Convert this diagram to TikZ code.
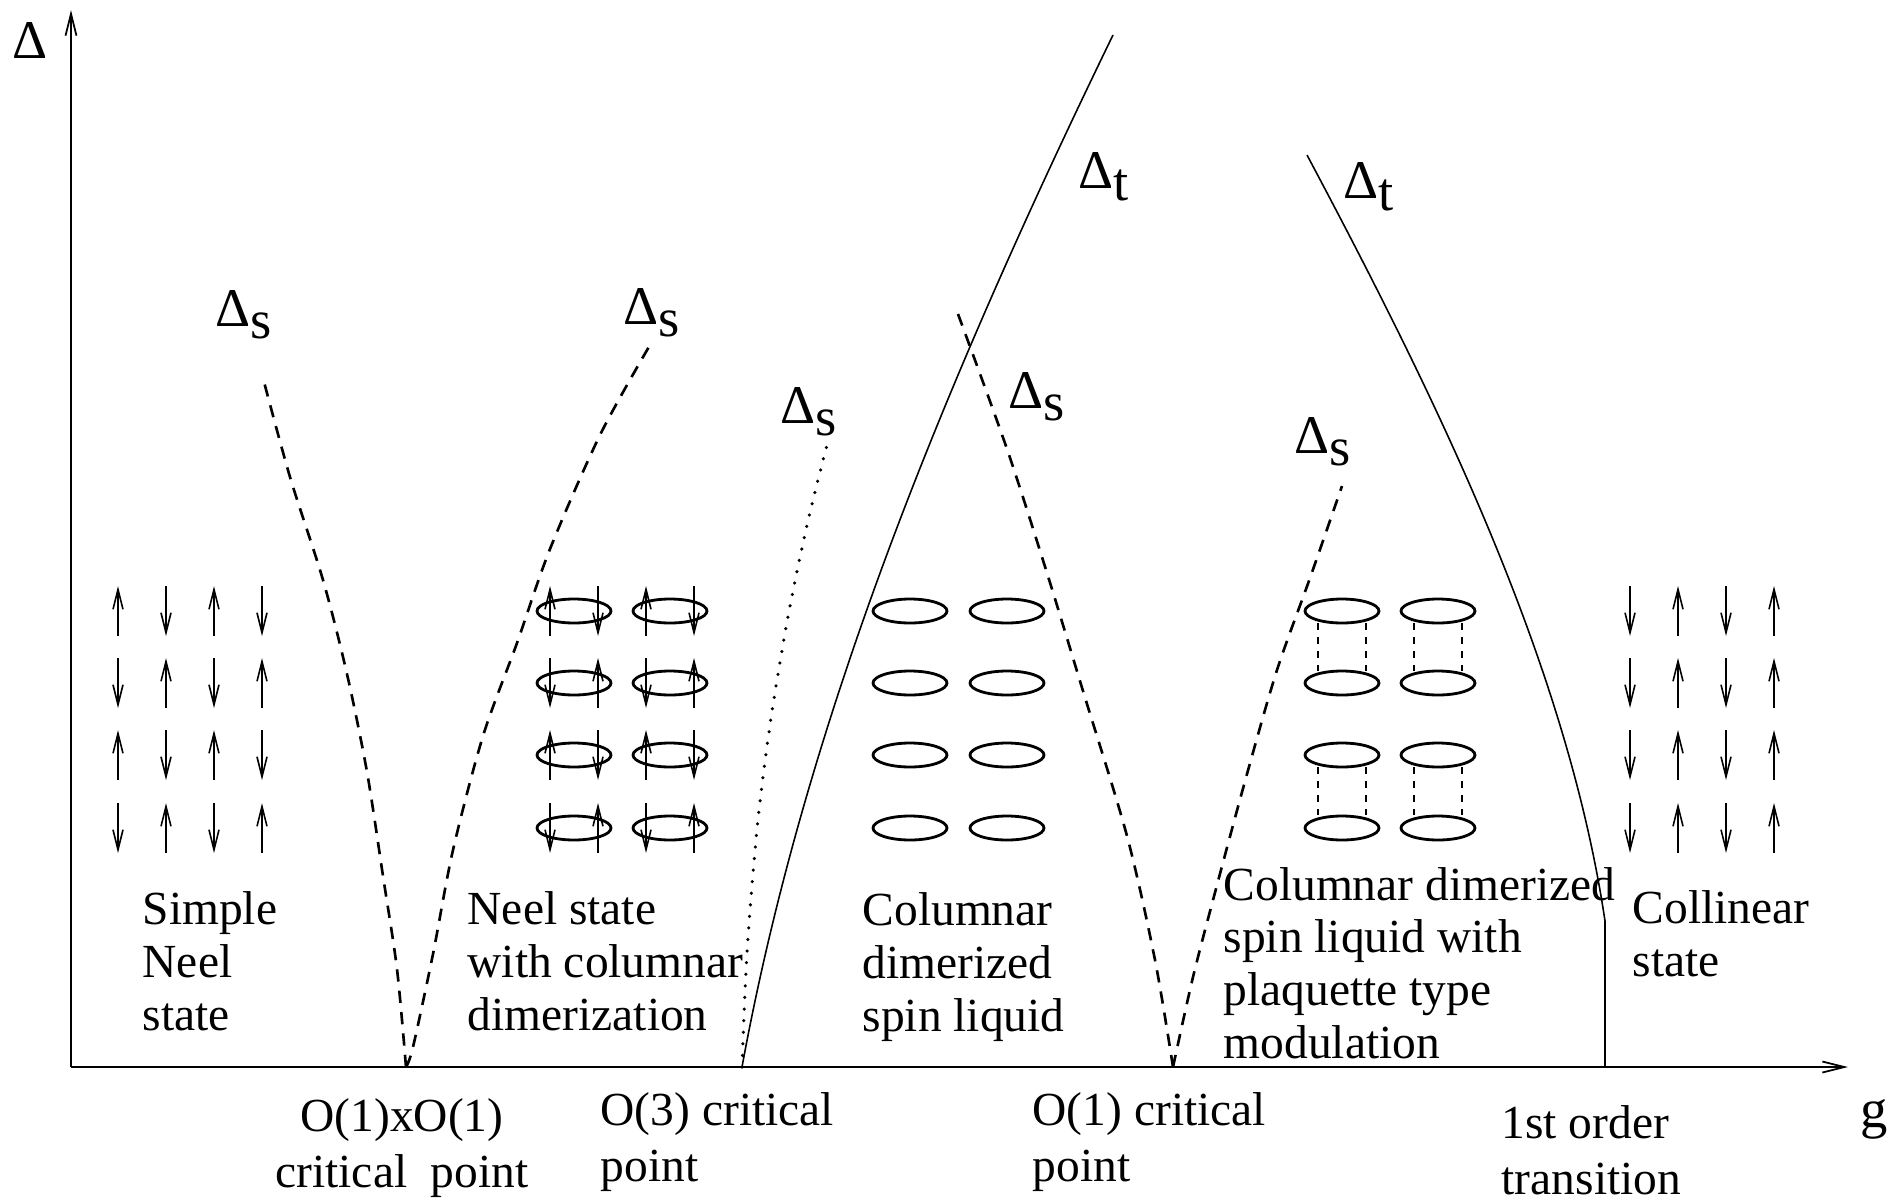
\documentclass[tikz,border=0pt]{standalone}
\usepackage{fontspec}
\setmainfont{Liberation Serif}
\usetikzlibrary{arrows.meta}
\usetikzlibrary{positioning}
\tikzstyle{axis} = [line width=.5pt, -{Straight Barb[length=2.2mm,width=1.1mm]}]
\tikzstyle{spinup} = [line width=.45pt, {Straight Barb[length=2mm,width=1mm]}-]
\tikzstyle{spindown} = [line width=.45pt, -{Straight Barb[length=2mm,width=1mm]}]
\tikzstyle{dimer} = [line width=.8pt]
\tikzstyle{bond} = [line width=.35pt, dash pattern=on 2pt off 2pt]
\tikzstyle{gapline} = [line width=.45pt]
\tikzstyle{gapdash} = [line width=.75pt, dash pattern=on 3.5pt off 2.6pt]
\tikzstyle{gapdot} = [line width=1pt, line cap=round, dash pattern=on 0pt off 3.3pt]
\tikzstyle{phase} = [align=left, anchor=west, inner sep=0pt, font=\fontsize{13.5}{15}\selectfont]
\tikzstyle{point} = [align=left, anchor=west, inner sep=0pt, font=\fontsize{13.5}{16}\selectfont]
\tikzstyle{gaplabel} = [anchor=base west, inner sep=0pt, font=\fontsize{15.5}{18}\selectfont]
\newcommand{\gp}[1]{Δ\raisebox{-3.5pt}{#1}}

\begin{document}
\begin{tikzpicture}[x=0.01cm, y=-0.01cm]
\useasboundingbox (0,0) rectangle (1893,1199);

% axes
\coordinate (origin) at (71,1067);
\coordinate (ytop) at (71,10);
\coordinate (xend) at (1848,1067);
\draw[axis] (origin) -- (ytop);
\draw[axis] (origin) -- (xend);
\node[gaplabel] (ylab) at (12,58) {Δ};
\node[gaplabel] (xlab) at (1860,1127) {g};

% critical points on the g axis
\coordinate (o11) at (406,1067);
\coordinate (o3) at (742,1067);
\coordinate (o1) at (1173,1067);
\coordinate (first) at (1605,1067);
\coordinate (kink) at (1605,921);
\coordinate (ttop1) at (1113,35);
\coordinate (ttop2) at (1307,155);

% gap lines
\draw[gapdash] plot[smooth] coordinates {(o11) (397,969) (383,876) (367,772) (347,674) (323,580) (290,477) (263,378)};
\draw[gapdash] plot[smooth] coordinates {(o11) (413,1047) (433,954) (453,850) (483,736) (517,643) (550,549) (600,435) (650,345)};
\draw[gapdot] plot[smooth] coordinates {(o3) (747,953) (757,829) (770,725) (787,622) (807,525) (827,445)};
\draw[gapline] (o3) .. controls (806,718) and (946,379) .. (ttop1);
\draw[gapdash] plot[smooth] coordinates {(958,314) (1007,449) (1047,573) (1083,691) (1127,836) (1155,960) (o1)};
\draw[gapdash] plot[smooth] coordinates {(o1) (1193,977) (1217,885) (1247,774) (1277,670) (1310,578) (1342,486)};
\draw[gapline] (ttop2) .. controls (1440,405) and (1567,666) .. (kink) -- (first);

\node[gaplabel] (ds1) at (215,326) {\gp{s}};
\node[gaplabel] (ds2) at (623,324) {\gp{s}};
\node[gaplabel] (ds3) at (780,423) {\gp{s}};
\node[gaplabel] (ds4) at (1008,408) {\gp{s}};
\node[gaplabel] (ds5) at (1294,453) {\gp{s}};
\node[gaplabel] (dt1) at (1078,188) {\gp{t}};
\node[gaplabel] (dt2) at (1343,198) {\gp{t}};

% simple Neel and dimerized Neel
\foreach \y/\a/\b in {586/spinup/spindown,658/spindown/spinup,730/spinup/spindown,803/spindown/spinup} {
  \draw[\a] (118,\y) -- ++(0,50);
  \draw[\b] (166,\y) -- ++(0,50);
  \draw[\a] (214,\y) -- ++(0,50);
  \draw[\b] (262,\y) -- ++(0,50);
  \draw[\a] (550,\y) -- ++(0,50);
  \draw[\b] (598,\y) -- ++(0,50);
  \draw[\a] (646,\y) -- ++(0,50);
  \draw[\b] (694,\y) -- ++(0,50);
  \draw[dimer] (574,\y+25) ellipse [x radius=37, y radius=12];
  \draw[dimer] (670,\y+25) ellipse [x radius=37, y radius=12];
  \draw[dimer] (910,\y+25) ellipse [x radius=37, y radius=12];
  \draw[dimer] (1007,\y+25) ellipse [x radius=37, y radius=12];
  \draw[dimer] (1342,\y+25) ellipse [x radius=37, y radius=12];
  \draw[dimer] (1438,\y+25) ellipse [x radius=37, y radius=12];
  % collinear
  \draw[spindown] (1630,\y) -- ++(0,50);
  \draw[spinup] (1678,\y) -- ++(0,50);
  \draw[spindown] (1726,\y) -- ++(0,50);
  \draw[spinup] (1774,\y) -- ++(0,50);
}
% plaquette bonds
\foreach \y in {623,767}
  \foreach \x in {1318,1366,1414,1462}
    \draw[bond] (\x,\y) -- ++(0,48);

% phases
\node[phase] (simple) at (142,961) {Simple\\Neel\\state};
\node[phase] (neelcol) at (467,961) {Neel state\\with columnar\\dimerization};
\node[phase] (coldim) at (862,967) {Columnar\\dimerized\\spin liquid};
\node[phase] (plaq) at (1223,963) {Columnar dimerized\\spin liquid with\\plaquette type\\modulation};
\node[phase] (collin) at (1632,934) {Collinear\\state};

% transitions
\node[point, anchor=center, align=center] (o11lab) at (402,1148) {O(1)xO(1)\\critical\ \ point};
\node[point] (o3lab) at (600,1142) {O(3) critical\\point};
\node[point] (o1lab) at (1032,1142) {O(1) critical\\point};
\node[point] (firstlab) at (1501,1150) {1st order\\transition};
\end{tikzpicture}
\end{document}
